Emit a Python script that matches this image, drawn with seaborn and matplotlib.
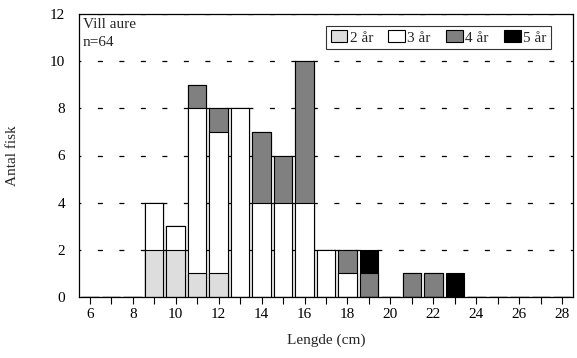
import matplotlib
matplotlib.use("Agg")
import matplotlib.pyplot as plt
from matplotlib.patches import Patch
import numpy as np
import pandas as pd
import seaborn as sns

lengths = list(range(6, 29))
age2 = [0, 0, 0, 2, 2, 1, 1, 0, 0, 0, 0, 0, 0, 0, 0, 0, 0, 0, 0, 0, 0, 0, 0]
age3 = [0, 0, 0, 2, 1, 7, 6, 8, 4, 4, 4, 2, 1, 0, 0, 0, 0, 0, 0, 0, 0, 0, 0]
age4 = [0, 0, 0, 0, 0, 1, 1, 0, 3, 2, 6, 0, 1, 1, 0, 1, 1, 0, 0, 0, 0, 0, 0]
age5 = [0, 0, 0, 0, 0, 0, 0, 0, 0, 0, 0, 0, 0, 1, 0, 0, 0, 1, 0, 0, 0, 0, 0]
labels = ["2 år", "3 år", "4 år", "5 år"]
colors = ["#dddddd", "#ffffff", "#808080", "#000000"]

sns.set_style("white")
plt.rcParams["font.family"] = ["Liberation Serif", "DejaVu Serif"]

fig = plt.figure(figsize=(5.77, 3.58), dpi=100)
ax = fig.add_axes([79/577, 1-297/358, 494/577, 283/358])

layers = [age2, age3, age4, age5]
cums = np.cumsum(np.array(layers), axis=0)
df = pd.DataFrame({"Lengde": [str(l) for l in lengths]})
order = [str(l) for l in lengths]

# dashed grid
for yv in [2, 4, 6, 8, 10, 12]:
    ax.axhline(yv, color="black", lw=0.9, ls=(2.5, (4, 13.2)), zorder=0)

for i in range(3, -1, -1):
    df["v"] = cums[i]
    sns.barplot(data=df, x="Lengde", y="v", order=order, color=colors[i],
                saturation=1, edgecolor="black", linewidth=0.8, width=0.86,
                ax=ax, zorder=2)

ax.set_xlim(-0.5, len(lengths) - 0.5)
ax.set_ylim(0, 12)
ax.set_yticks([0, 2, 4, 6, 8, 10, 12])
ax.set_xticks(range(len(lengths)))
ax.set_xticklabels([str(l) if l % 2 == 0 else "" for l in lengths])
ax.tick_params(axis="x", length=5, width=0.8, direction="out", bottom=True,
               labelsize=11, colors="black", pad=3)
ax.tick_params(axis="y", length=0, labelsize=11, pad=10, colors="black")
for s in ax.spines.values():
    s.set_color("black")
    s.set_linewidth(0.9)
    s.set_visible(True)
ax.set_xlabel("Lengde (cm)", fontsize=11, labelpad=9)
ax.set_ylabel("Antal fisk", fontsize=11, labelpad=22)

ax.text(0.008, 0.985, "Vill aure\nn=64", transform=ax.transAxes, fontsize=11,
        va="top", ha="left", linespacing=1.5)

handles = [Patch(facecolor=c, edgecolor="black", linewidth=0.8) for c in colors]
leg = ax.legend(handles, labels, ncol=4, loc="upper left",
                bbox_to_anchor=(0.5, 0.958), borderaxespad=0, fontsize=11,
                frameon=True, fancybox=False, handlelength=1.1, handleheight=0.8,
                handletextpad=0.15, columnspacing=1.0, borderpad=0.3)
leg.get_frame().set_edgecolor("black")
leg.get_frame().set_linewidth(0.8)

fig.savefig("out.png", dpi=100)
